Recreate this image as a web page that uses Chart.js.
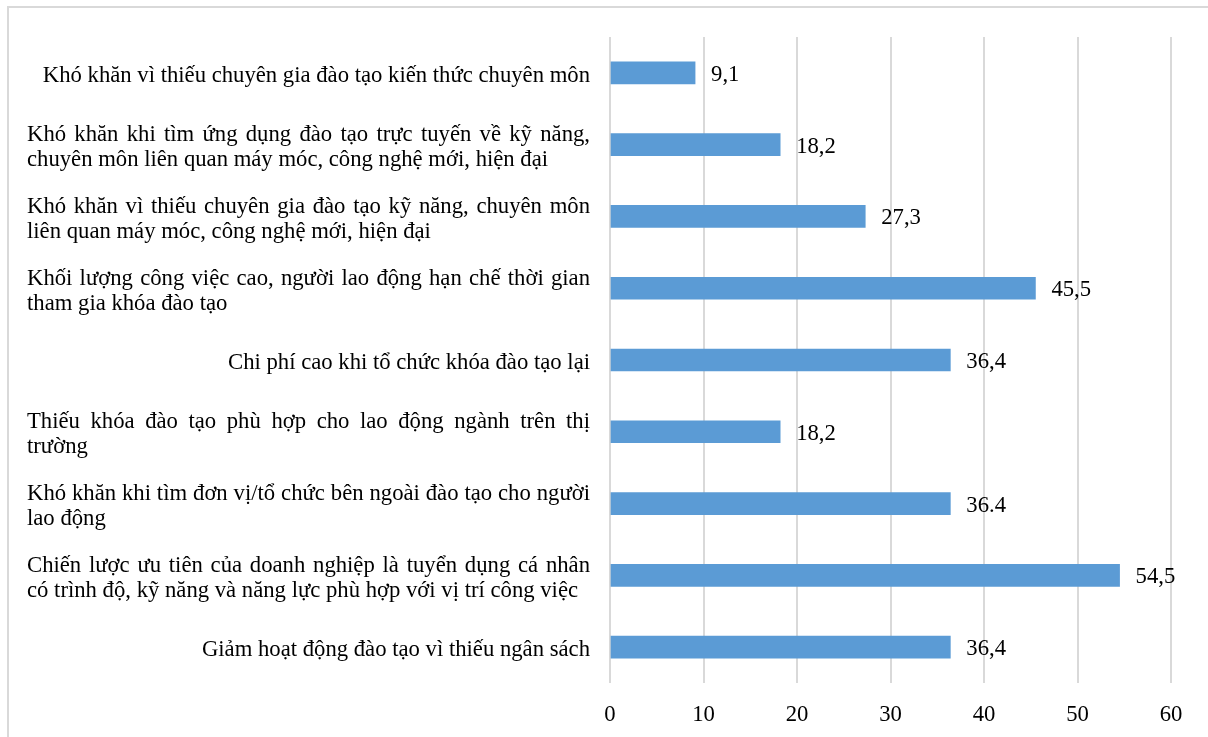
<!DOCTYPE html>
<html>
<head>
<meta charset="utf-8">
<script src="https://cdn.jsdelivr.net/npm/chart.js@4"></script>
<style>
  body { margin: 0; background: #fff; }
  #frame { position: absolute; left: 7px; top: 6px; width: 1230px; height: 760px; border: 2px solid #d9d9d9; }
  #wrap { position: absolute; left: 0; top: 0; width: 1208px; height: 737px; }
</style>
</head>
<body>
<div id="frame"></div>
<div id="wrap"><canvas id="chart" width="1208" height="737"></canvas></div>
<script>
// Category labels (already broken into lines like the original)
const categories = [
    ["Khó khăn vì thiếu chuyên gia đào tạo kiến thức chuyên môn"],
    ["Khó khăn khi tìm ứng dụng đào tạo trực tuyến về kỹ năng,", "chuyên môn liên quan máy móc, công nghệ mới, hiện đại"],
    ["Khó khăn vì thiếu chuyên gia đào tạo kỹ năng, chuyên môn", "liên quan máy móc, công nghệ mới, hiện đại"],
    ["Khối lượng công việc cao, người lao động hạn chế thời gian", "tham gia khóa đào tạo"],
    ["Chi phí cao khi tổ chức khóa đào tạo lại"],
    ["Thiếu khóa đào tạo phù hợp cho lao động ngành trên thị", "trường"],
    ["Khó khăn khi tìm đơn vị/tổ chức bên ngoài đào tạo cho người", "lao động"],
    ["Chiến lược ưu tiên của doanh nghiệp là tuyển dụng cá nhân", "có trình độ, kỹ năng và năng lực phù hợp với vị trí công việc"],
    ["Giảm hoạt động đào tạo vì thiếu ngân sách"]
];
const values = [9.1, 18.2, 27.3, 45.5, 36.4, 18.2, 36.4, 54.5, 36.4];
const valueLabels = ["9,1", "18,2", "27,3", "45,5", "36,4", "18,2", "36.4", "54,5", "36,4"];
const xTicks = [0, 10, 20, 30, 40, 50, 60];

const FAMILY = "'Liberation Serif', 'Times New Roman', serif";
const FONT = "22.7px " + FAMILY;
const textLeft = 27;
const textRight = 590;
const lineGap = 25;

// Draw category labels: single lines right aligned, first line of wrapped labels justified
const categoryLabels = {
    id: "categoryLabels",
    afterDraw(chart) {
        const ctx = chart.ctx;
        const yScale = chart.scales.y;
        ctx.save();
        ctx.font = FONT;
        ctx.fillStyle = "#000";
        ctx.textBaseline = "middle";
        categories.forEach((lines, i) => {
            const yc = yScale.getPixelForValue(i) + 3;
            const y0 = yc - (lines.length - 1) * lineGap / 2;
            if (lines.length === 1) {
                ctx.textAlign = "right";
                ctx.fillText(lines[0], textRight, y0);
                return;
            }
            lines.forEach((line, k) => {
                const y = y0 + k * lineGap;
                ctx.textAlign = "left";
                if (k < lines.length - 1) {
                    const words = line.split(" ");
                    const widths = words.map(w => ctx.measureText(w).width);
                    const total = widths.reduce((a, b) => a + b, 0);
                    const gap = (textRight - textLeft - total) / (words.length - 1);
                    if (gap < 2) {
                        ctx.fillText(line, textLeft, y, textRight - textLeft);
                        return;
                    }
                    let x = textLeft;
                    words.forEach((w, j) => {
                        ctx.fillText(w, x, y);
                        x += widths[j] + gap;
                    });
                } else {
                    ctx.fillText(line, textLeft, y);
                }
            });
        });
        ctx.restore();
    }
};

// Value labels at the end of each bar
const valueLabelPlugin = {
    id: "valueLabels",
    afterDatasetsDraw(chart) {
        const ctx = chart.ctx;
        const meta = chart.getDatasetMeta(0);
        ctx.save();
        ctx.font = FONT;
        ctx.fillStyle = "#000";
        ctx.textAlign = "left";
        ctx.textBaseline = "alphabetic";
        meta.data.forEach((bar, i) => {
            ctx.fillText(valueLabels[i], bar.x + 16, bar.y + 8);
        });
        ctx.restore();
    }
};

new Chart(document.getElementById("chart").getContext("2d"), {
    type: "bar",
    data: {
        labels: categories.map(l => l.join(" ")),
        datasets: [{
            data: values,
            backgroundColor: "#5b9bd5",
            borderWidth: 0,
            barThickness: 22
        }]
    },
    options: {
        indexAxis: "y",
        responsive: false,
        animation: false,
        layout: { padding: { top: 37, right: 37, bottom: 0, left: 0 } },
        plugins: { legend: { display: false }, tooltip: { enabled: false } },
        scales: {
            x: {
                min: 0,
                max: 60,
                afterBuildTicks(scale) {
                    scale.ticks = xTicks.map(v => ({ value: v }));
                },
                afterFit(scale) { scale.height = 54; },
                grid: { color: "#d9d9d9", lineWidth: 2, drawTicks: false },
                border: { display: false },
                ticks: {
                    font: { family: FAMILY, size: 22.7 },
                    color: "#000",
                    padding: 18
                }
            },
            y: {
                grid: { display: false },
                border: { display: false },
                ticks: { display: false },
                afterFit(scale) { scale.width = 610; }
            }
        }
    },
    plugins: [categoryLabels, valueLabelPlugin]
});
</script>
</body>
</html>
